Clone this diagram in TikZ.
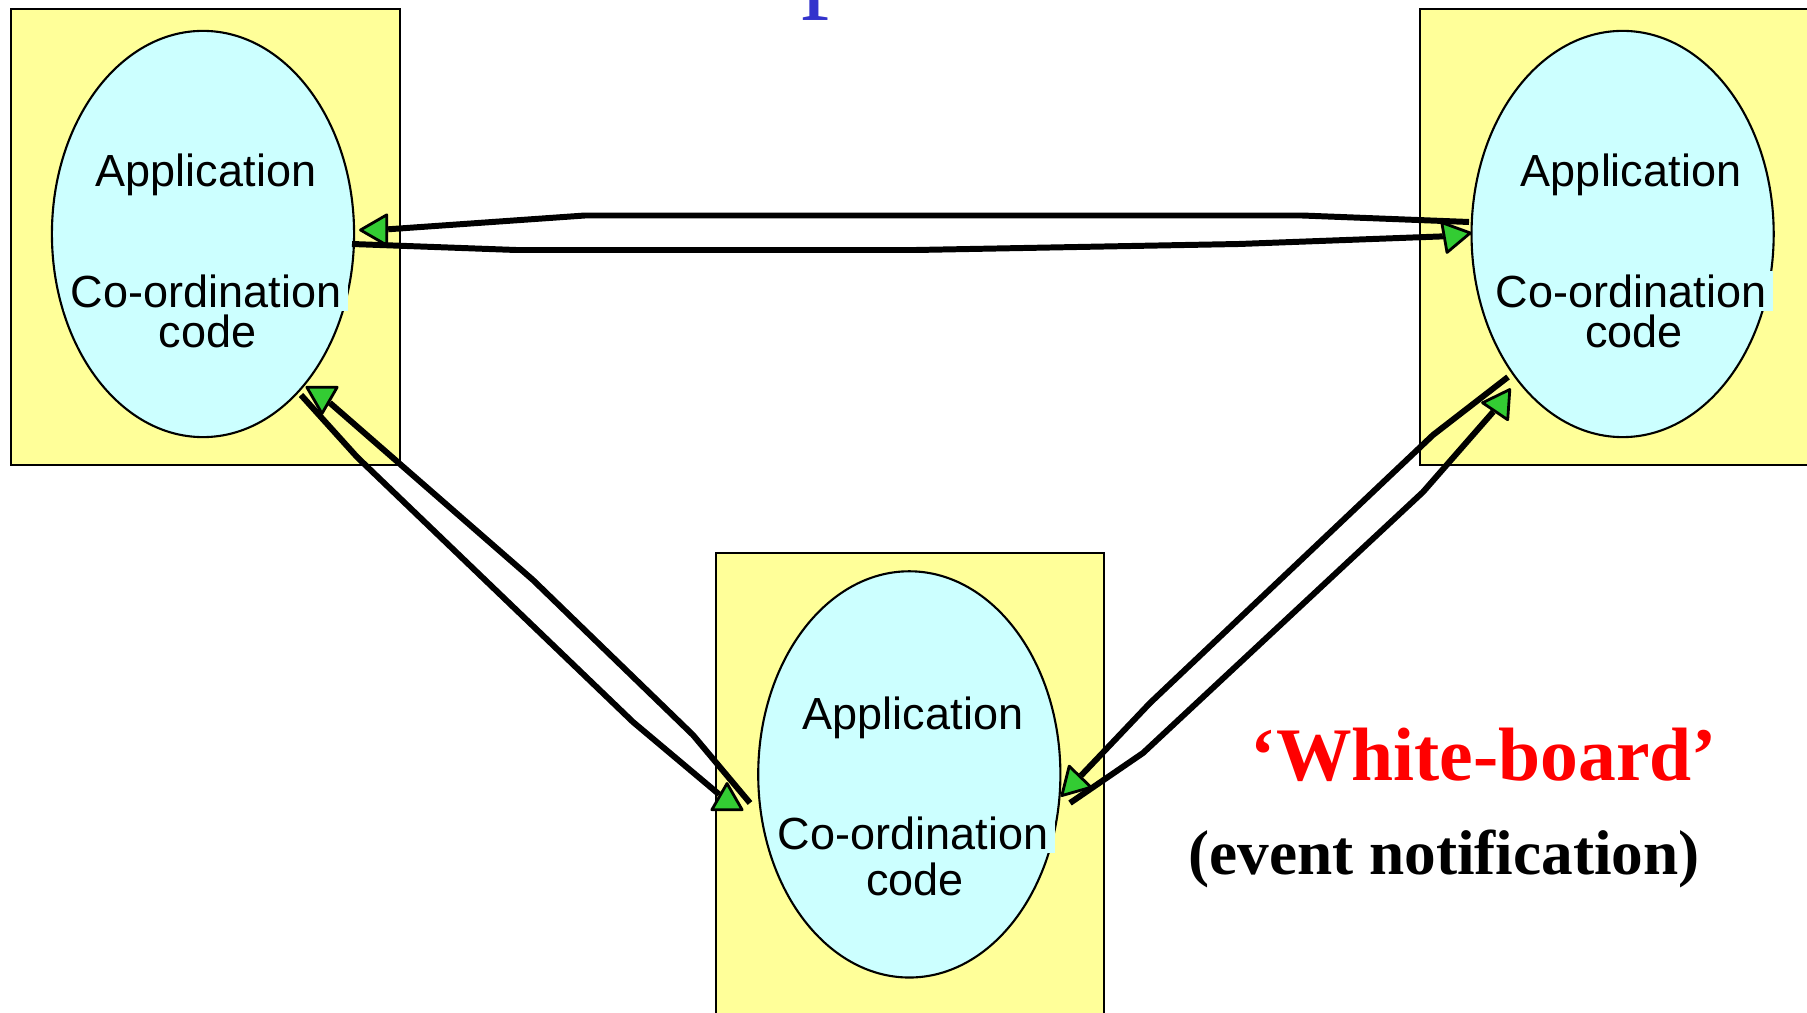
\documentclass[tikz,border=0pt]{standalone}
\usepackage{fontspec}
\setmainfont{Liberation Serif}
\newfontfamily\arialfont{Liberation Sans}
\usepackage{tikz}
\usetikzlibrary{shapes,positioning}
\definecolor{boxyellow}{RGB}{255,255,153}
\definecolor{appcyan}{RGB}{204,255,255}
\definecolor{headgreen}{RGB}{51,204,51}
\definecolor{titleblue}{RGB}{51,51,204}

\begin{document}
\begin{tikzpicture}[
    x=0.01cm, y=-0.01cm,
    host/.style={draw, line width=0.6pt, fill=boxyellow, minimum width=3.885cm, minimum height=4.56cm, inner sep=0},
    app/.style={ellipse, draw, line width=0.6pt, fill=appcyan, minimum width=3.02cm, minimum height=4.06cm, inner sep=0},
    apptext/.style={font=\arialfont\fontsize{12.8}{15}\selectfont, inner sep=1pt},
    coordtext/.style={apptext, fill=appcyan, inner xsep=2pt},
    head/.style={regular polygon, regular polygon sides=3, minimum size=0.35cm, inner sep=0, draw, line width=0.8pt, line join=round, fill=headgreen},
    link/.style={line width=1.7pt}
]
\useasboundingbox (0,0) rectangle (1807,1013);
\clip (0,0) rectangle (1807,1013);
\fill[white] (0,0) rectangle (1807,1013);

% Title (runs off the top edge)
\node[font=\fontsize{32}{38}\selectfont, text=titleblue, anchor=base, inner sep=0] (title) at (830,-3.5) {p};

% Hosts
\node[host] (hostL) at (205.75,237) {};
\node[host, minimum width=4.1cm] (hostR) at (1625,237) {};
\node[host, minimum height=4.8cm] (hostB) at (910,793) {};

% Applications
\node[app] (appL) at (203,234) {};
\node[app] (appR) at (1622.6,234) {};
\node[app] (appB) at (909.3,774.4) {};

\node[apptext] (appL_top) at (206,174.5) {Application};
\node[coordtext] (appL_mid) at (206,291) {Co-ordination};
\node[apptext] (appL_low) at (207.5,331) {code};

\node[apptext] (appR_top) at (1631,174.5) {Application};
\node[coordtext] (appR_mid) at (1631,291) {Co-ordination};
\node[apptext] (appR_low) at (1634,331) {code};

\node[apptext] (appB_top) at (913,718) {Application};
\node[coordtext] (appB_mid) at (913,833) {Co-ordination};
\node[apptext] (appB_low) at (915,879) {code};

% Arrow heads
\node[head, rotate=90] (headTL) at (378,230) {};
\node[head, rotate=-80] (headTR) at (1453,236) {};
\node[head, rotate=180] (headLB) at (322,396) {};
\node[head] (headBL) at (727,801) {};
\node[head, rotate=-104] (headBR) at (1074,783) {};
\node[head, rotate=86] (headRB) at (1500,404) {};

% Line ends at the applications
\coordinate (start_ta) at (1469,222);
\coordinate (start_tb) at (352,244);
\coordinate (start_la) at (301,395);
\coordinate (start_lb) at (750,803);
\coordinate (start_ra) at (1508,377);
\coordinate (start_rb) at (1070,803);

% Links
\draw[link] (start_ta) -- (1302,215.5) -- (585,215.5) -- (headTL);
\draw[link] (start_tb) -- (516,250) -- (916,250) -- (1239,244) -- (headTR);
\draw[link] (start_la) -- (357,457) -- (633,722) -- (headBL);
\draw[link] (start_lb) -- (693,735) -- (533,580) -- (headLB);
\draw[link] (start_ra) -- (1433,435) -- (1150,703) -- (headBR);
\draw[link] (start_rb) -- (1143,753) -- (1423,492) -- (headRB);

% Caption
\node[font=\bfseries\fontsize{21.5}{26}\selectfont, text=red] (whiteboard) at (1484,755) {‘White-board’};
\node[font=\bfseries\fontsize{18}{22}\selectfont] (notify) at (1444,859) {(event notification)};

\end{tikzpicture}
\end{document}
